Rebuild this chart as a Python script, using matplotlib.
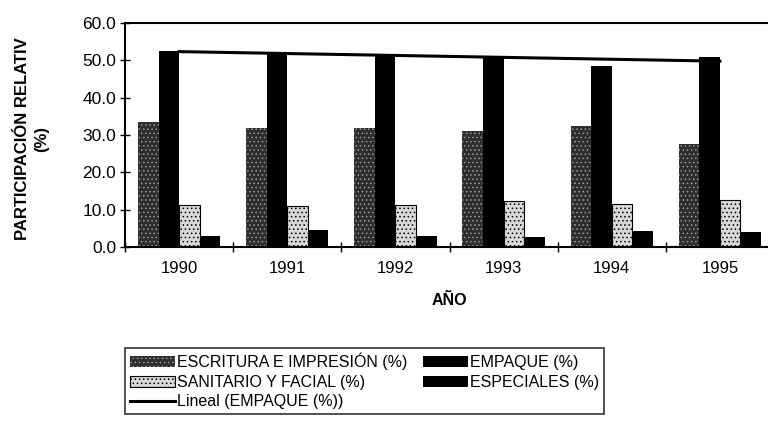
import matplotlib
matplotlib.use("Agg")
import matplotlib.pyplot as plt
import numpy as np

plt.rcParams['font.family'] = ['Liberation Sans', 'DejaVu Sans']
plt.rcParams['hatch.linewidth'] = 0.6

years = ["1990", "1991", "1992", "1993", "1994", "1995"]
escritura = [33.6, 32.0, 31.9, 31.1, 32.3, 27.6]
empaque = [52.4, 51.8, 51.7, 51.0, 48.4, 51.0]
sanitario = [11.2, 10.9, 11.2, 12.3, 11.5, 12.5]
especiales = [2.9, 4.5, 2.9, 2.7, 4.3, 4.1]

labels = ["ESCRITURA E IMPRESIÓN (%)", "EMPAQUE (%)",
          "SANITARIO Y FACIAL (%)", "ESPECIALES (%)"]

fig = plt.figure(figsize=(7.68, 4.28), dpi=100)
ax = fig.add_axes([0.1628, 0.4229, 0.845, 0.5234])

x = np.arange(len(years))
w = 0.19
offsets = np.array([-1.5, -0.5, 0.5, 1.5]) * w

b1 = ax.bar(x + offsets[0], escritura, w, color="#2e2e2e", edgecolor="#9a9a9a",
            hatch="....", linewidth=0, label=labels[0])
b2 = ax.bar(x + offsets[1], empaque, w, color="black", edgecolor="black",
            linewidth=0, label=labels[1])
b3 = ax.bar(x + offsets[2], sanitario, w, color="#d8d8d8", edgecolor="black",
            hatch="....", linewidth=0.8, label=labels[2])
b4 = ax.bar(x + offsets[3], especiales, w, color="black", edgecolor="black",
            linewidth=0, label=labels[3])

# linear trend of EMPAQUE
coef = np.polyfit(x, empaque, 1)
trend, = ax.plot(x, np.polyval(coef, x), color="black", linewidth=2.2,
                 label="Lineal (EMPAQUE (%))")

ax.set_ylim(0, 60)
ax.set_yticks(np.arange(0, 61, 10))
ax.set_yticklabels([f"{v:.1f}" for v in np.arange(0, 61, 10)], fontsize=12.5)
ax.set_xlim(-0.5, len(years) - 0.5)
ax.set_xticks(x)
ax.set_xticklabels(years, fontsize=12)
ax.tick_params(axis="x", length=0, pad=10)
ax.set_xticks(np.arange(-0.5, len(years), 1), minor=True)
ax.tick_params(axis="x", which="minor", direction="inout", length=7, width=1)
ax.tick_params(axis="y", direction="inout", length=7, width=1, pad=3)
for s in ax.spines.values():
    s.set_linewidth(1.5)

fig.text(0.0423, 0.675, "PARTICIPACIÓN RELATIV\n(%)", rotation=90,
         ha="center", va="center", multialignment="center",
         fontsize=12, fontweight="bold", linespacing=1.35)
ax.set_xlabel("AÑO", fontsize=11.5, fontweight="bold", labelpad=12)

handles = [b1, b3, trend, b2, b4]
leg_labels = [labels[0], labels[2], "Lineal (EMPAQUE (%))", labels[1], labels[3]]
leg = fig.legend(handles, leg_labels, ncol=2, loc="upper left",
                 bbox_to_anchor=(0.163, 0.187), fontsize=11.5,
                 frameon=True, fancybox=False, edgecolor="black",
                 handlelength=2.8, handletextpad=0.12, columnspacing=1.0,
                 labelspacing=0.28, borderpad=0.3, borderaxespad=0)
leg.get_frame().set_linewidth(1.2)

fig.savefig("out.png", dpi=100)
